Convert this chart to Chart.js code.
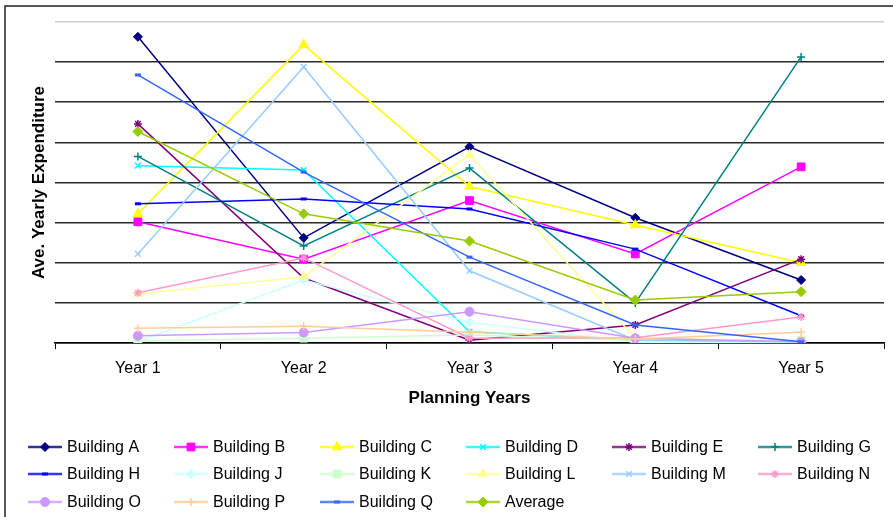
<!DOCTYPE html>
<html>
<head>
<meta charset="utf-8">
<title>Ave. Yearly Expenditure</title>
<script src="https://cdn.jsdelivr.net/npm/chart.js@4/dist/chart.umd.min.js"></script>
<style>
  html, body { margin: 0; padding: 0; background: #fff; }
  canvas { display: block; }
</style>
</head>
<body>
<canvas id="chart" width="893" height="517"></canvas>
<script>
// planning years on the x axis
const yearLabels = ["Year 1", "Year 2", "Year 3", "Year 4", "Year 5"];

// average yearly expenditure per building (arbitrary units, 0-8)
const buildingA = [7.63, 2.62, 4.89, 3.12, 1.57];
const buildingB = [3.02, 2.09, 3.55, 2.22, 4.39];
const buildingC = [3.22, 7.43, 3.90, 2.94, 2.00];
const buildingD = [4.42, 4.31, 0.28, 0.07, 0.05];
const buildingE = [5.46, 1.62, 0.07, 0.45, 2.09];
const buildingG = [4.65, 2.42, 4.36, 1.00, 7.13];
const buildingH = [3.47, 3.59, 3.34, 2.34, 0.68];
const buildingJ = [0.03, 1.57, 0.52, 0.02, 0.02];
const buildingK = [0.05, 0.12, 0.20, 0.07, 0.07];
const buildingL = [1.22, 1.65, 4.69, 0.12, 0.05];
const buildingM = [2.22, 6.88, 1.80, 0.07, 0.03];
const buildingN = [1.25, 2.12, 0.12, 0.13, 0.65];
const buildingO = [0.18, 0.26, 0.78, 0.12, 0.03];
const buildingP = [0.37, 0.42, 0.27, 0.10, 0.27];
const buildingQ = [6.68, 4.26, 2.14, 0.45, 0.03];
const average   = [5.27, 3.22, 2.54, 1.07, 1.28];

const seriesNames = [
  "Building A", "Building B", "Building C", "Building D", "Building E", "Building G",
  "Building H", "Building J", "Building K", "Building L", "Building M", "Building N",
  "Building O", "Building P", "Building Q", "Average"
];
const seriesValues = [
  buildingA, buildingB, buildingC, buildingD, buildingE, buildingG,
  buildingH, buildingJ, buildingK, buildingL, buildingM, buildingN,
  buildingO, buildingP, buildingQ, average
];

// colour, marker shape, marker radius, marker stroke width
const styles = [
  ["#000080", "rectRot", 4.5, 1],
  ["#FF00FF", "rect", 5.5, 1],
  ["#FFFF00", "triangle", 5.5, 1],
  ["#00FFFF", "crossRot", 4, 1.5],
  ["#800080", "star", 4, 1.5],
  ["#008080", "cross", 4, 1.5],
  ["#0000FF", "line", 3, 3],
  ["#CCFFFF", "rectRot", 4.5, 1],
  ["#CCFFCC", "rect", 5.5, 1],
  ["#FFFF99", "triangle", 5.5, 1],
  ["#99CCFF", "crossRot", 4, 1.5],
  ["#FF99CC", "star", 4, 1.5],
  ["#CC99FF", "circle", 4.5, 1],
  ["#FFCC99", "cross", 4, 1.5],
  ["#3366FF", "line", 3, 3],
  ["#99CC00", "rectRot", 5, 1]
];

const FONT = "'Liberation Sans', Arial, Helvetica, sans-serif";
Chart.defaults.font.family = FONT;
Chart.defaults.color = "#000";

const datasets = seriesValues.map((vals, i) => {
  const [color, shape, radius, bw] = styles[i];
  return {
    label: seriesNames[i],
    data: vals,
    borderColor: color,
    backgroundColor: color,
    borderWidth: 1.5,
    pointStyle: shape,
    pointRadius: radius,
    pointHoverRadius: radius,
    pointBackgroundColor: color,
    pointBorderColor: color,
    pointBorderWidth: bw,
    tension: 0,
    // later series sit on top of earlier ones
    order: seriesValues.length - i
  };
});

// white page with the frame along the top and left edges
const frame = {
  id: "frame",
  beforeDraw(chart) {
    const ctx = chart.ctx;
    ctx.save();
    ctx.fillStyle = "#fff";
    ctx.fillRect(0, 0, chart.width, chart.height);
    ctx.strokeStyle = "#222";
    ctx.lineWidth = 1.5;
    ctx.strokeRect(5, 6, chart.width + 10, chart.height + 10);
    ctx.restore();
  }
};

// six-column legend grid under the axis title
const gridLegend = {
  id: "gridLegend",
  afterDraw(chart) {
    const ctx = chart.ctx;
    const rows = [447, 474, 502];
    const drawPoint = Chart.helpers && Chart.helpers.drawPoint;
    ctx.save();
    chart.data.datasets.forEach((ds, i) => {
      const col = i % 6;
      const row = Math.floor(i / 6);
      const x0 = 28 + col * 146;
      const y = rows[row];
      ctx.strokeStyle = ds.borderColor;
      ctx.globalAlpha = 0.8;
      ctx.lineWidth = 2.5;
      ctx.beginPath();
      ctx.moveTo(x0, y);
      ctx.lineTo(x0 + 34, y);
      ctx.stroke();
      ctx.globalAlpha = 1;
      if (drawPoint) {
        ctx.fillStyle = ds.pointBackgroundColor;
        ctx.strokeStyle = ds.pointBorderColor;
        ctx.lineWidth = ds.pointBorderWidth;
        drawPoint(ctx, {
          pointStyle: ds.pointStyle,
          radius: ds.pointRadius,
          rotation: 0,
          borderWidth: ds.pointBorderWidth
        }, x0 + 17, y);
      }
      ctx.fillStyle = "#000";
      ctx.font = "16px " + FONT;
      ctx.textBaseline = "middle";
      ctx.textAlign = "left";
      ctx.fillText(ds.label, x0 + 39, y + 1);
    });
    ctx.restore();
  }
};

new Chart(document.getElementById("chart"), {
  type: "line",
  data: { labels: yearLabels, datasets: datasets },
  plugins: [frame, gridLegend],
  options: {
    responsive: false,
    animation: false,
    devicePixelRatio: 1,
    layout: { padding: { left: 0, top: 22, right: 9, bottom: 107 } },
    plugins: {
      legend: { display: false },
      tooltip: { enabled: false }
    },
    scales: {
      x: {
        offset: true,
        afterFit(scale) { scale.height = 67; },
        grid: {
          offset: true,
          drawOnChartArea: false,
          drawTicks: true,
          tickLength: 6,
          color: "#000",
          lineWidth: 1
        },
        border: { display: true, color: "#000", width: 1.5 },
        ticks: { font: { size: 16 }, padding: 10, color: "#000" },
        title: {
          display: true,
          text: "Planning Years",
          font: { size: 17, weight: "bold" },
          padding: { top: 0, bottom: 1 }
        }
      },
      y: {
        min: 0,
        max: 8,
        afterFit(scale) { scale.width = 55; },
        ticks: { display: false, stepSize: 1 },
        border: { display: false },
        grid: {
          drawTicks: false,
          lineWidth: 1.6,
          color: (c) => (c.tick && c.tick.value === 8 ? "#cfcfcf" : "#2a2a2a")
        },
        title: {
          display: true,
          text: "Ave. Yearly Expenditure",
          font: { size: 17, weight: "bold" },
          padding: { top: 29, bottom: 0 }
        }
      }
    }
  }
});
</script>
</body>
</html>
